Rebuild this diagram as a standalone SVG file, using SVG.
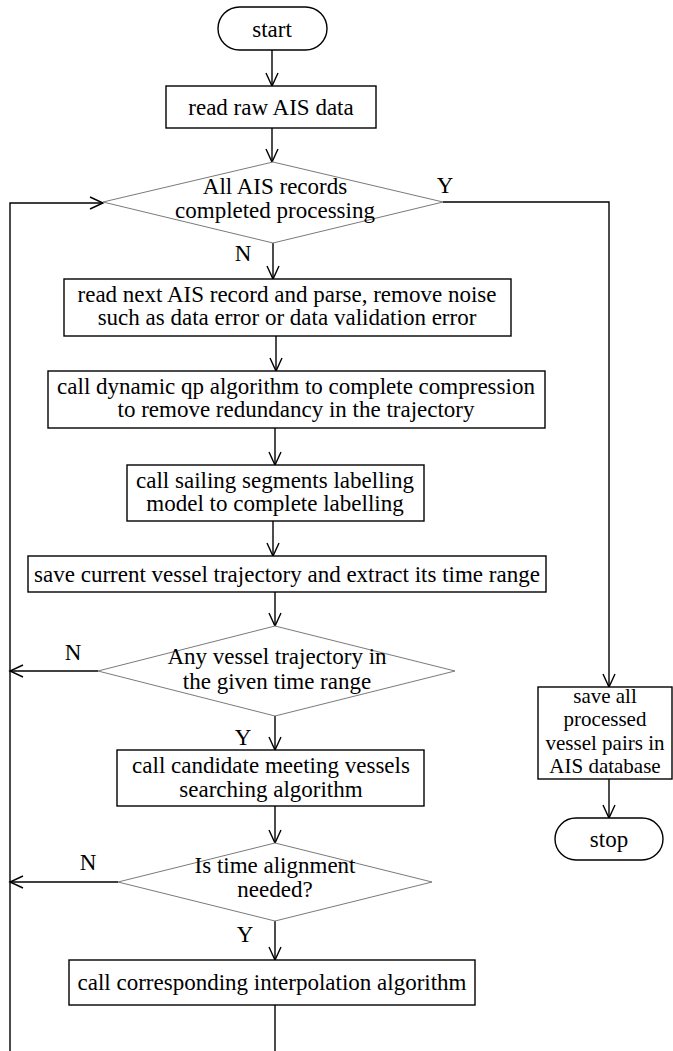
<svg xmlns="http://www.w3.org/2000/svg" width="673" height="1051" viewBox="0 0 673 1051">
  <style>
    .box { fill: #fff; stroke: #000; stroke-width: 1.4; }
    .dec { fill: #fff; stroke: #7a7a7a; stroke-width: 1; }
    .wire { fill: none; stroke: #000; stroke-width: 1.4; }
    text { font-family: "Liberation Serif", "Times New Roman", serif; font-size: 23px; fill: #000; text-anchor: middle; }
    .tight { font-size: 21px; }
  </style>
  <defs>
    <marker id="arrow" markerUnits="userSpaceOnUse" markerWidth="16" markerHeight="16" viewBox="-14 -8 16 16" refX="0" refY="0" orient="auto">
      <path d="M-13,-6 L0,0 L-13,6" fill="none" stroke="#000" stroke-width="1.4"/>
    </marker>
  </defs>
  <rect width="673" height="1051" fill="#fff"/>

  <!-- connectors -->
  <g id="connectors" class="wire">
    <path d="M272,50 V86" marker-end="url(#arrow)"/>
    <path d="M272,128 V162" marker-end="url(#arrow)"/>
    <path d="M273,243 V279" marker-end="url(#arrow)"/>
    <path d="M276,336 V371" marker-end="url(#arrow)"/>
    <path d="M275,428 V465" marker-end="url(#arrow)"/>
    <path d="M273,521 V556" marker-end="url(#arrow)"/>
    <path d="M275,592 V626" marker-end="url(#arrow)"/>
    <path d="M275,715 V750" marker-end="url(#arrow)"/>
    <path d="M275,806 V843" marker-end="url(#arrow)"/>
    <path d="M275,921 V960" marker-end="url(#arrow)"/>
    <path d="M275,1005 V1051"/>
    <path d="M10,1051 V203 H103" marker-end="url(#arrow)"/>
    <path d="M98,671 H10" marker-end="url(#arrow)"/>
    <path d="M118,882 H10" marker-end="url(#arrow)"/>
    <path d="M443,202 H609 V687" marker-end="url(#arrow)"/>
    <path d="M609,779 V818" marker-end="url(#arrow)"/>
  </g>

  <!-- connector labels -->
  <g id="labels">
    <text x="445" y="193">Y</text>
    <text x="243" y="261">N</text>
    <text x="73" y="660">N</text>
    <text x="243" y="745">Y</text>
    <text x="88" y="870">N</text>
    <text x="245" y="942">Y</text>
  </g>

  <g id="start">
    <rect class="box" x="218" y="7" width="109" height="43" rx="21.5"/>
    <text x="272" y="37">start</text>
  </g>

  <g id="read-raw">
    <rect class="box" x="166" y="86" width="210" height="42"/>
    <text x="271" y="115">read raw AIS data</text>
  </g>

  <g id="all-processed">
    <polygon class="dec" points="273,162 443,202 273,243 103,202"/>
    <text x="275" y="194">All AIS records</text>
    <text x="275" y="218">completed processing</text>
  </g>

  <g id="read-next">
    <rect class="box" x="64" y="279" width="447" height="57"/>
    <text x="287" y="302">read next AIS record and parse, remove noise</text>
    <text x="287" y="325">such as data error or data validation error</text>
  </g>

  <g id="compress">
    <rect class="box" x="48" y="371" width="497" height="57"/>
    <text x="296" y="394">call dynamic qp algorithm to complete compression</text>
    <text x="296" y="417">to remove redundancy in the trajectory</text>
  </g>

  <g id="labelling">
    <rect class="box" x="127" y="465" width="297" height="56"/>
    <text x="275" y="488">call sailing segments labelling</text>
    <text x="275" y="511">model to complete labelling</text>
  </g>

  <g id="save-current">
    <rect class="box" x="28" y="556" width="518" height="36"/>
    <text x="287" y="582">save current vessel trajectory and extract its time range</text>
  </g>

  <g id="any-trajectory">
    <polygon class="dec" points="275,626 455,671 275,716 98,671"/>
    <text x="277" y="664">Any vessel trajectory in</text>
    <text x="277" y="689">the given time range</text>
  </g>

  <g id="candidate-search">
    <rect class="box" x="117" y="750" width="307" height="56"/>
    <text x="271" y="773">call candidate meeting vessels</text>
    <text x="271" y="797">searching algorithm</text>
  </g>

  <g id="time-alignment">
    <polygon class="dec" points="275,843 432,882 275,921 118,882"/>
    <text x="275" y="873">Is time alignment</text>
    <text x="275" y="897">needed?</text>
  </g>

  <g id="interpolation">
    <rect class="box" x="69" y="960" width="406" height="45"/>
    <text x="272" y="990">call corresponding interpolation algorithm</text>
  </g>

  <g id="save-all">
    <rect class="box" x="538" y="687" width="134" height="92"/>
    <text class="tight" x="605" y="703">save all</text>
    <text class="tight" x="605" y="726.3">processed</text>
    <text class="tight" x="605" y="749.6">vessel pairs in</text>
    <text class="tight" x="605" y="772.9">AIS database</text>
  </g>

  <g id="stop">
    <rect class="box" x="555" y="818" width="108" height="42" rx="21"/>
    <text x="609" y="847">stop</text>
  </g>
</svg>
